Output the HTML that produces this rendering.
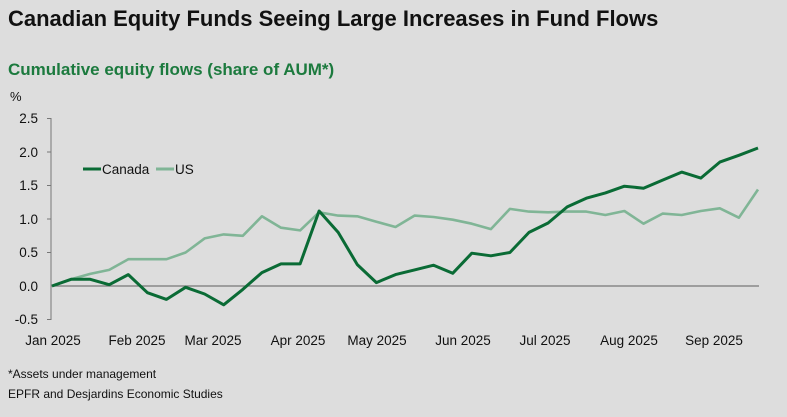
<!DOCTYPE html><html><head><style>
body{margin:0;width:787px;height:412px;background:#dddddd;font-family:"Liberation Sans",sans-serif;overflow:hidden}
</style></head><body>
<svg width="787" height="412" xmlns="http://www.w3.org/2000/svg" font-family="Liberation Sans, sans-serif">
<rect width="787" height="412" fill="#dddddd"/>
<text x="8" y="26" font-size="22" font-weight="bold" fill="#111">Canadian Equity Funds Seeing Large Increases in Fund Flows</text>
<text x="8" y="75" font-size="17" font-weight="bold" fill="#1c7a3e">Cumulative equity flows (share of AUM*)</text>
<text x="10" y="101" font-size="13" fill="#111">%</text>
<g font-size="13.5" fill="#111" text-anchor="end">
<text x="38" y="123">2.5</text><text x="38" y="157">2.0</text><text x="38" y="190">1.5</text><text x="38" y="224">1.0</text><text x="38" y="257">0.5</text><text x="38" y="291">0.0</text><text x="38" y="324">-0.5</text></g>
<line x1="51" y1="118" x2="51" y2="320" stroke="#777" stroke-width="1"/>
<g stroke="#777"><line x1="47" y1="118.5" x2="51" y2="118.5"/><line x1="47" y1="152" x2="51" y2="152"/><line x1="47" y1="185.5" x2="51" y2="185.5"/><line x1="47" y1="219" x2="51" y2="219"/><line x1="47" y1="252.5" x2="51" y2="252.5"/><line x1="47" y1="319.5" x2="51" y2="319.5"/></g>
<line x1="51" y1="286" x2="759" y2="286" stroke="#777" stroke-width="1.2"/>
<g font-size="13.5" fill="#111" text-anchor="middle">
<text x="53" y="345">Jan 2025</text><text x="137" y="345">Feb 2025</text><text x="213" y="345">Mar 2025</text><text x="298" y="345">Apr 2025</text><text x="377" y="345">May 2025</text><text x="463" y="345">Jun 2025</text><text x="545" y="345">Jul 2025</text><text x="629" y="345">Aug 2025</text><text x="714" y="345">Sep 2025</text></g>
<line x1="83" y1="169" x2="101" y2="169" stroke="#0a6b35" stroke-width="3"/>
<text x="102" y="174" font-size="13.5" fill="#111">Canada</text>
<line x1="156" y1="169" x2="174" y2="169" stroke="#80b596" stroke-width="3"/>
<text x="175" y="174" font-size="13.5" fill="#111">US</text>
<polyline id="us" fill="none" stroke="#80b596" stroke-width="2.6" stroke-linejoin="round"/>
<polyline id="ca" fill="none" stroke="#0a6b35" stroke-width="3" stroke-linejoin="round"/>
<text x="8" y="378" font-size="12" fill="#111">*Assets under management</text>
<text x="8" y="398" font-size="12" fill="#111">EPFR and Desjardins Economic Studies</text>
</svg>
<script>
var ca=[0,0.1,0.1,0.02,0.17,-0.1,-0.2,-0.02,-0.12,-0.28,-0.05,0.2,0.33,0.33,1.12,0.8,0.32,0.05,0.17,0.24,0.31,0.19,0.49,0.45,0.5,0.8,0.94,1.18,1.31,1.39,1.49,1.46,1.58,1.7,1.61,1.85,1.95,2.06];
var us=[0,0.1,0.18,0.24,0.4,0.4,0.4,0.5,0.71,0.77,0.75,1.04,0.87,0.83,1.1,1.05,1.04,0.96,0.88,1.05,1.03,0.99,0.93,0.85,1.15,1.11,1.1,1.11,1.11,1.06,1.12,0.93,1.08,1.06,1.12,1.16,1.02,1.44];
function pts(a){return a.map(function(v,i){return (52+i*706/37).toFixed(1)+","+(286-v*67).toFixed(1)}).join(" ")}
document.getElementById("ca").setAttribute("points",pts(ca));
document.getElementById("us").setAttribute("points",pts(us));
</script>
</body></html>
